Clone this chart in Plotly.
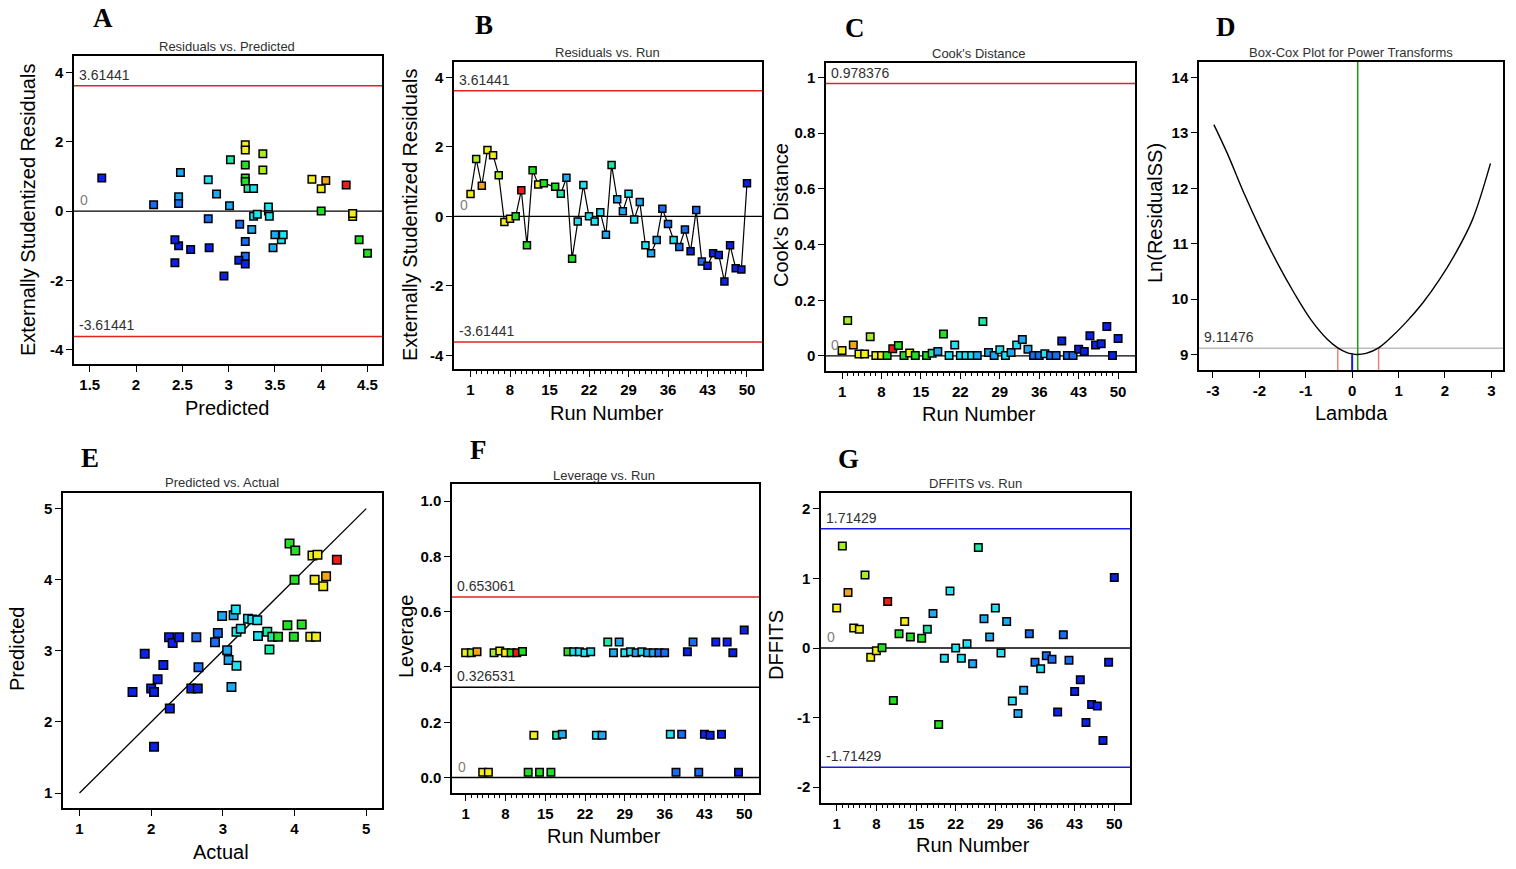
import plotly.graph_objects as go

W, H = 1516, 869

# ---------------- data ----------------
runs = [1, 2, 3, 4, 5, 6, 7, 8, 9, 10, 11, 12, 13, 14, 16, 17, 18, 19, 20, 21, 22, 23, 24, 25,
        26, 27, 28, 29, 30, 31, 32, 33, 34, 35, 36, 37, 38, 39, 40, 41, 42, 43, 44, 45, 46, 47,
        48, 49, 50]
residuals = [0.64, 1.65, 0.88, 1.91, 1.76, 1.18, -0.16, -0.07, 0.00, 0.75, -0.83, 1.33, 0.92,
             0.95, 0.85, 0.65, 1.11, -1.22, -0.15, 0.90, 0.00, -0.15, 0.12, -0.53, 1.48, 0.49,
             0.15, 0.65, -0.09, 0.41, -0.83, -1.06, -0.68, 0.22, -0.22, -0.68, -0.88, -0.38,
             -1.00, 0.18, -1.30, -1.42, -1.06, -1.11, -1.87, -0.83, -1.49, -1.53, 0.95]
predicted = [4.00, 3.37, 4.05, 3.18, 3.18, 3.37, 4.34, 4.34, 4.00, 4.27, 4.41, 3.18, 3.90,
             3.18, 3.18, 3.21, 2.48, 4.50, 3.27, 2.78, 3.43, 3.44, 3.43, 3.25, 3.02, 2.87,
             3.01, 3.27, 3.31, 2.46, 3.57, 3.48, 3.50, 2.46, 2.78, 3.59, 3.18, 3.12, 2.46,
             2.19, 3.18, 3.11, 2.79, 2.59, 2.95, 2.42, 2.42, 3.18, 1.63]
cooks = [0.020, 0.127, 0.039, 0.007, 0.007, 0.069, 0.002, 0.002, 0.002, 0.026, 0.038, 0.002,
         0.011, 0.002, 0.002, 0.010, 0.016, 0.079, 0.002, 0.039, 0.002, 0.002, 0.002, 0.002,
         0.124, 0.012, 0.002, 0.022, 0.002, 0.012, 0.039, 0.059, 0.024, 0.002, 0.002, 0.008,
         0.002, 0.002, 0.054, 0.002, 0.002, 0.024, 0.016, 0.073, 0.039, 0.044, 0.106, 0.002,
         0.063]
leverage = [0.451, 0.451, 0.455, 0.019, 0.019, 0.451, 0.458, 0.451, 0.451, 0.451, 0.456, 0.019,
            0.153, 0.019, 0.019, 0.153, 0.157, 0.455, 0.455, 0.455, 0.451, 0.455, 0.153, 0.153,
            0.490, 0.451, 0.490, 0.451, 0.455, 0.451, 0.455, 0.451, 0.451, 0.451, 0.451, 0.157,
            0.019, 0.157, 0.455, 0.490, 0.019, 0.157, 0.153, 0.490, 0.157, 0.490, 0.451, 0.019,
            0.534]
dffits = [0.575, 1.466, 0.800, 0.287, 0.268, 1.049, -0.134, -0.038, 0.005, 0.670, -0.757, 0.206,
          0.383, 0.158, 0.139, 0.268, 0.498, -1.100, -0.148, 0.819, 0.000, -0.148, 0.062, -0.225,
          1.446, 0.421, 0.158, 0.575, -0.072, 0.383, -0.761, -0.943, -0.608, 0.206, -0.206,
          -0.297, -0.110, -0.163, -0.920, 0.192, -0.177, -0.627, -0.455, -1.073, -0.814, -0.833,
          -1.331, -0.206, 1.015]
run_group = ["Y", "V", "O", "Y", "Y", "V", "Y", "Y", "G", "R", "G", "G", "Y", "G",
             "G", "T", "L", "G", "C", "C", "C", "C", "C", "L", "T", "L", "L", "C", "C", "L",
             "C", "L", "L", "M", "M", "C", "M", "M", "B", "M", "M", "B", "B", "B", "B", "B",
             "B", "B", "B"]

actual_e = [1.74, 2.00, 2.04, 2.09, 1.91, 2.17, 2.26, 2.04, 2.25, 2.30, 2.39, 2.56, 2.65, 2.66,
            2.63, 2.89, 2.93, 2.99, 3.06, 3.08, 3.12, 3.19, 3.15, 3.18, 3.19, 3.25, 3.35, 3.41,
            3.48, 3.49, 3.62, 3.65, 3.69, 3.77, 3.90, 3.99, 4.10, 3.93, 4.01, 4.00, 4.25, 4.32,
            4.22, 4.30, 4.28, 4.44, 4.40, 4.59]
predicted_e = [2.42, 2.47, 2.42, 2.60, 2.96, 2.80, 2.19, 1.65, 3.19, 3.11, 3.19, 2.47, 2.47, 2.77,
               3.19, 3.12, 3.25, 3.49, 3.01, 2.87, 2.49, 2.79, 3.50, 3.58, 3.27, 3.31, 3.45, 3.44,
               3.43, 3.21, 3.27, 3.02, 3.20, 3.20, 3.36, 3.20, 3.37, 4.51, 4.41, 4.00, 4.34, 4.35,
               3.20, 3.20, 4.00, 4.05, 3.91, 4.28]
group_e = ["B", "B", "B", "B", "B", "B", "B", "B", "B", "B", "B", "B", "B", "M", "M", "M", "M",
           "L", "L", "L", "L", "C", "L", "C", "C", "C", "C", "C", "C", "C", "T", "T", "T", "G",
           "G", "G", "G", "G", "G", "G", "Y", "Y", "Y", "Y", "Y", "O", "Y", "R"]
diag = [1, 5]

lam = [-2.98, -2.69, -2.33, -1.97, -1.61, -1.25, -0.89, -0.53, -0.31, -0.10, 0.01, 0.09, 0.30,
       0.57, 0.80, 1.16, 1.52, 1.88, 2.23, 2.59, 2.98]
ln_ss = [13.15, 12.63, 11.91, 11.25, 10.65, 10.11, 9.63, 9.27, 9.12, 9.03, 9.01, 9.00, 9.02,
         9.12, 9.28, 9.58, 9.93, 10.35, 10.83, 11.43, 12.45]

resid_limit = 3.61441
cooks_limit = 0.978376
boxcox_ci = 9.11476
lambda_best = 0.12
lambda_current = 0.0
lambda_min = 9.0
lambda_ci = [-0.31, 0.57]
lev_limits = [0.653061, 0.326531]
dffits_limit = 1.71429

run_ticks = [1, 8, 15, 22, 29, 36, 43, 50]
pred_ticks = [1.5, 2, 2.5, 3, 3.5, 4, 4.5]
resid_ticks = [-4, -2, 0, 2, 4]
cooks_ticks = [0, 0.2, 0.4, 0.6, 0.8, 1]
lam_ticks = [-3, -2, -1, 0, 1, 2, 3]
lnss_ticks = [9, 10, 11, 12, 13, 14]
ea_ticks = [1, 2, 3, 4, 5]
lev_ticks = [0.0, 0.2, 0.4, 0.6, 0.8, 1.0]
dffits_ticks = [-2, -1, 0, 1, 2]

# ---------------- styles ----------------
PAL = {"B": "#0c22e8", "M": "#1a6cf0", "L": "#1eaaf2", "C": "#22e2f2", "T": "#22e6a6",
       "G": "#22e022", "V": "#a8ee22", "Y": "#f2ee1a", "O": "#f2a41a", "R": "#f01c1c"}
col_runs = [PAL[g] for g in run_group]
col_e = [PAL[g] for g in group_e]

TICKFONT = dict(family="Arial", size=15, color="black", weight="bold")
LABFONT = dict(family="Arial", size=14, color="#303030")

fig = go.Figure()
layout = dict(width=W, height=H, margin=dict(l=0, r=0, t=0, b=0), showlegend=False,
              paper_bgcolor="white", plot_bgcolor="white", shapes=[], annotations=[])


def fmt(v, fixed=None):
    s = f"{v:.{fixed}f}" if fixed is not None else f"{v:g}"
    return s.replace("\u2212", "-")


def px_dom_x(a, b):
    return [a / W, b / W]


def px_dom_y(t, b):
    return [1 - b / H, 1 - t / H]


def axes(i, px, py, xr, yr, xt, yt, yfixed=None, minor=False):
    xn = "xaxis" if i == 1 else f"xaxis{i}"
    yn = "yaxis" if i == 1 else f"yaxis{i}"
    xid = "x" if i == 1 else f"x{i}"
    yid = "y" if i == 1 else f"y{i}"
    common = dict(showline=True, linecolor="black", linewidth=1.5, mirror=True, ticks="outside",
                  ticklen=6, tickwidth=1.3, tickcolor="black", showgrid=False, zeroline=False,
                  tickfont=TICKFONT, fixedrange=True, tickmode="array")
    xa = dict(domain=px_dom_x(*px), range=xr, anchor=yid, tickvals=xt,
              ticktext=[fmt(v) for v in xt], **common)
    if minor:
        xa["minor"] = dict(tickmode="array", tickvals=list(range(1, 51)), ticks="outside",
                           ticklen=3, tickcolor="black", tickwidth=1)
    ya = dict(domain=px_dom_y(*py), range=yr, anchor=xid, tickvals=yt,
              ticktext=[fmt(v, yfixed) for v in yt], **common)
    layout[xn] = xa
    layout[yn] = ya
    return xid, yid


def hline(xid, yid, y, color, width=1.5):
    layout["shapes"].append(dict(type="line", xref=f"{xid} domain", yref=yid, x0=0, x1=1,
                                 y0=y, y1=y, line=dict(color=color, width=width), layer="below"))


def vline(xid, yid, x, y0, y1, color, width=1.5):
    layout["shapes"].append(dict(type="line", xref=xid, yref=yid, x0=x, x1=x,
                                 y0=y0, y1=y1, line=dict(color=color, width=width), layer="below"))


def reflabel(xid, yid, y, text, color="#303030", xshift=3):
    layout["annotations"].append(dict(text=text, xref=f"{xid} domain", yref=yid, x=0, y=y,
                                      xanchor="left", yanchor="bottom", xshift=xshift, yshift=1,
                                      showarrow=False, font=dict(LABFONT, color=color)))


def text(x, y, s, size, family="Arial", color="black", bold=False, angle=0):
    layout["annotations"].append(dict(text=s, xref="paper", yref="paper", x=x / W, y=1 - y / H,
                                      xanchor="center", yanchor="middle", showarrow=False,
                                      textangle=angle,
                                      font=dict(family=family, size=size, color=color,
                                                weight="bold" if bold else "normal")))


def markers(x, y, xid, yid, colors, size=7.5):
    fig.add_trace(go.Scatter(x=x, y=y, xaxis=xid, yaxis=yid, mode="markers",
                             marker=dict(symbol="square", size=size, color=colors,
                                         line=dict(color="black", width=1.5)),
                             hoverinfo="x+y"))


# ---------- A: Residuals vs Predicted ----------
xa, ya = axes(1, (74, 382), (56, 364), [1.33, 4.657], [-4.41, 4.47], pred_ticks, resid_ticks)
hline(xa, ya, resid_limit, "#e8201e")
hline(xa, ya, -resid_limit, "#e8201e")
hline(xa, ya, 0, "black", 1.3)
reflabel(xa, ya, resid_limit, "3.61441")
reflabel(xa, ya, -resid_limit, "-3.61441")
reflabel(xa, ya, 0, "0", color="#808080", xshift=4)
markers(predicted, residuals, xa, ya, col_runs)

# ---------- B: Residuals vs Run ----------
xb, yb = axes(2, (454, 762), (62, 369), [-1.93, 52.66], [-4.39, 4.44], run_ticks, resid_ticks,
              minor=True)
hline(xb, yb, resid_limit, "#e8201e")
hline(xb, yb, -resid_limit, "#e8201e")
hline(xb, yb, 0, "black", 1.3)
reflabel(xb, yb, resid_limit, "3.61441")
reflabel(xb, yb, -resid_limit, "-3.61441")
reflabel(xb, yb, 0, "0", color="#808080", xshift=4)
fig.add_trace(go.Scatter(x=runs, y=residuals, xaxis=xb, yaxis=yb, mode="lines",
                         line=dict(color="black", width=1.2), hoverinfo="skip"))
markers(runs, residuals, xb, yb, col_runs, size=7)

# ---------- C: Cook's Distance ----------
xc, yc = axes(3, (826, 1135), (63, 371), [-1.85, 53.0], [-0.054, 1.052], run_ticks, cooks_ticks,
              minor=True)
hline(xc, yc, cooks_limit, "#e8201e")
hline(xc, yc, 0, "black", 1.3)
reflabel(xc, yc, cooks_limit, "0.978376")
reflabel(xc, yc, 0, "0", color="#808080", xshift=3)
markers(runs, cooks, xc, yc, col_runs)

# ---------- D: Box-Cox ----------
xd, yd = axes(4, (1199, 1503), (62, 370), [-3.30, 3.25], [8.72, 14.28], lam_ticks, lnss_ticks)
hline(xd, yd, boxcox_ci, "#bdbdbd")
vline(xd, yd, lambda_best, 8.72, 14.28, "#13a013")
vline(xd, yd, lambda_current, 8.72, lambda_min, "#1a1ae8", 2)
vline(xd, yd, lambda_ci[0], 8.72, boxcox_ci, "#f08080")
vline(xd, yd, lambda_ci[1], 8.72, boxcox_ci, "#f08080")
reflabel(xd, yd, boxcox_ci, "9.11476")
fig.add_trace(go.Scatter(x=lam, y=ln_ss, xaxis=xd, yaxis=yd, mode="lines",
                         line=dict(color="black", width=1.4, shape="spline"), hoverinfo="x+y"))

# ---------- E: Predicted vs Actual ----------
xe, ye = axes(5, (63, 382), (493, 808), [0.77, 5.22], [0.79, 5.22], ea_ticks, ea_ticks)
fig.add_trace(go.Scatter(x=diag, y=diag, xaxis=xe, yaxis=ye, mode="lines",
                         line=dict(color="black", width=1.3), hoverinfo="skip"))
markers(actual_e, predicted_e, xe, ye, col_e, size=8.5)

# ---------- F: Leverage vs Run ----------
xf, yf = axes(6, (452, 759), (484, 793), [-1.4, 52.6], [-0.056, 1.062], run_ticks, lev_ticks,
              yfixed=1, minor=True)
hline(xf, yf, lev_limits[0], "#e8201e")
hline(xf, yf, lev_limits[1], "black", 1.3)
hline(xf, yf, 0, "black", 1.3)
reflabel(xf, yf, lev_limits[0], "0.653061")
reflabel(xf, yf, lev_limits[1], "0.326531")
reflabel(xf, yf, 0, "0", color="#808080", xshift=4)
markers(runs, leverage, xf, yf, col_runs)

# ---------- G: DFFITS vs Run ----------
xg, yg = axes(7, (821, 1130), (493, 803), [-1.77, 52.77], [-2.23, 2.23], run_ticks, dffits_ticks,
              minor=True)
hline(xg, yg, dffits_limit, "#1a1ae8")
hline(xg, yg, -dffits_limit, "#1a1ae8")
hline(xg, yg, 0, "black", 1.3)
reflabel(xg, yg, dffits_limit, "1.71429")
reflabel(xg, yg, -dffits_limit, "-1.71429")
reflabel(xg, yg, 0, "0", color="#808080", xshift=4)
markers(runs, dffits, xg, yg, col_runs)

# ---------- texts ----------
SERIF = "Times New Roman"
for (x, y, s) in [(103, 18, "A"), (484, 25, "B"), (855, 28, "C"), (1226, 27, "D"),
                  (90, 458, "E"), (478, 450, "F"), (848, 459, "G")]:
    text(x, y, s, 27, family=SERIF, bold=True)

TFONT = 13
for (x, y, s) in [(227, 47, "Residuals vs. Predicted"), (607, 52, "Residuals vs. Run"),
                  (979, 53, "Cook's Distance"), (1351, 52, "Box-Cox Plot for Power Transforms"),
                  (222, 482, "Predicted vs. Actual"), (604, 475, "Leverage vs. Run"),
                  (975, 483, "DFFITS vs. Run")]:
    text(x, y, s, TFONT, color="#303030")

AFONT = 20
for (x, y, s) in [(227, 408, "Predicted"), (607, 413, "Run Number"), (979, 414, "Run Number"),
                  (1351, 413, "Lambda"), (221, 852, "Actual"), (604, 836, "Run Number"),
                  (973, 845, "Run Number")]:
    text(x, y, s, AFONT)

for (x, y, s) in [(28, 210, "Externally Studentized Residuals"),
                  (410, 215, "Externally Studentized Residuals"),
                  (781, 215, "Cook's Distance"), (1155, 213, "Ln(ResidualSS)"),
                  (17, 649, "Predicted"), (406, 637, "Leverage"), (776, 645, "DFFITS")]:
    text(x, y, s, AFONT, angle=-90)

fig.update_layout(**layout)
fig.write_html("out.html", config={"displayModeBar": False},
               post_script="document.body.style.margin='0';document.body.style.overflow='hidden';")
